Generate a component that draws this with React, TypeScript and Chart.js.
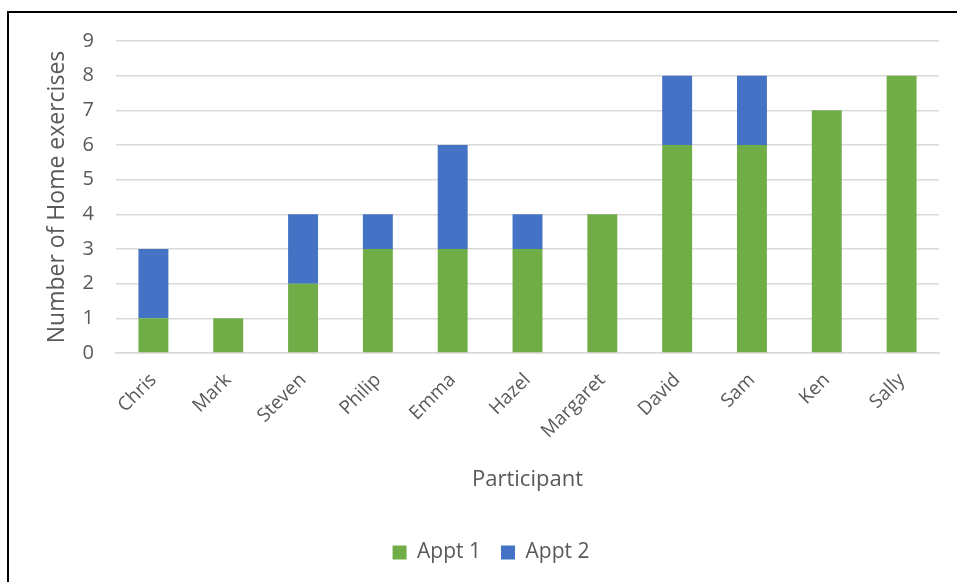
import React, { useEffect, useRef } from "react";
import { Chart, registerables } from "chart.js";

Chart.register(...registerables);

const participants = ["Chris", "Mark", "Steven", "Philip", "Emma", "Hazel", "Margaret", "David", "Sam", "Ken", "Sally"];
const appt1 = [1, 1, 2, 3, 3, 3, 4, 6, 6, 7, 8];
const appt2 = [2, 0, 2, 1, 3, 1, 0, 2, 2, 0, 0];
const yTicks = [0, 1, 2, 3, 4, 5, 6, 7, 8, 9];

const FONT = "'Open Sans', 'Noto Sans', sans-serif";
const TEXT = "#595959";

export default function App() {
  const ref = useRef<HTMLCanvasElement | null>(null);

  useEffect(() => {
    if (!ref.current) return;
    const chart = new Chart(ref.current, {
      type: "bar",
      data: {
        labels: participants,
        datasets: [
          { label: "Appt 1", data: appt1, backgroundColor: "#70AD47", barPercentage: 0.4, categoryPercentage: 1 },
          { label: "Appt 2", data: appt2, backgroundColor: "#4472C4", barPercentage: 0.4, categoryPercentage: 1 },
        ],
      },
      options: {
        animation: false,
        responsive: false,
        maintainAspectRatio: false,
        layout: { padding: { left: 34, right: 34, top: 28, bottom: 9 } },
        plugins: {
          tooltip: { enabled: false },
          legend: {
            position: "bottom",
            labels: { font: { family: FONT, size: 21 }, color: TEXT, boxWidth: 14, boxHeight: 14, padding: 20 },
          },
        },
        scales: {
          x: {
            stacked: true,
            grid: { display: false },
            border: { color: "#D9D9D9", width: 1.5 },
            ticks: { font: { family: FONT, size: 19 }, color: TEXT, maxRotation: 45, minRotation: 45, padding: 8 },
            title: { display: true, text: "Participant", font: { family: FONT, size: 22 }, color: TEXT, padding: { top: 0, bottom: 29 } },
            afterFit: (s: any) => { s.height = 169; s.paddingLeft = 0; s.paddingRight = 0; },
          },
          y: {
            stacked: true,
            min: 0,
            max: 9,
            afterBuildTicks: (s: any) => { s.ticks = yTicks.map((v) => ({ value: v })); },
            grid: { color: "#D9D9D9", lineWidth: 1.5, drawTicks: false },
            border: { display: false },
            ticks: { font: { family: FONT, size: 20 }, color: TEXT, padding: 22 },
            title: { display: true, text: "Number of Home exercises", font: { family: FONT, size: 23 }, color: TEXT, padding: { top: 1, bottom: 0 } },
            afterFit: (s: any) => { s.width = 73; s.paddingTop = 0; s.paddingBottom = 0; },
          },
        },
      },
    });
    return () => chart.destroy();
  }, []);

  return (
    <div style={{ position: "fixed", left: 0, top: 0, width: 957, height: 582, overflow: "hidden", background: "#fff" }}>
      <div style={{ position: "absolute", left: 7, top: 11, width: 1000, height: 700, border: "2px solid #000", boxSizing: "border-box" }} />
      <canvas ref={ref} width={964} height={569} style={{ position: "absolute", left: 9, top: 13, width: 964, height: 569 }} />
    </div>
  );
}
